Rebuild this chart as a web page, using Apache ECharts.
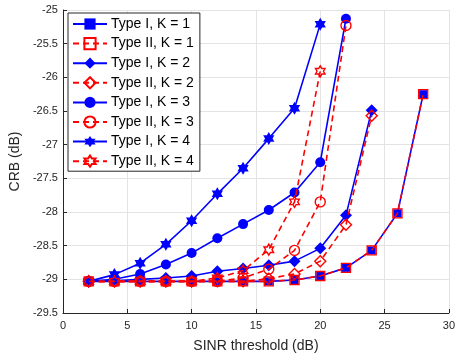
<!DOCTYPE html>
<html>
<head>
<meta charset="utf-8">
<script src="https://cdn.jsdelivr.net/npm/echarts@6/dist/echarts.min.js"></script>
<style>
  html, body { margin: 0; padding: 0; background: #fff; }
  #chart { width: 458px; height: 358px; }
</style>
</head>
<body>
<div id="chart"></div>
<script>
// SINR threshold (dB)
const sinr = [2, 4, 6, 8, 10, 12, 14, 16, 18, 20, 22, 24, 26, 28]

// CRB (dB), one array per curve
const typeI_K1 = [-29.03, -29.03, -29.03, -29.03, -29.03, -29.03, -29.03, -29.03, -29.01, -28.95, -28.83, -28.57, -28.02, -26.25]
const typeII_K1 = [-29.03, -29.03, -29.03, -29.03, -29.03, -29.03, -29.03, -29.03, -29.01, -28.95, -28.83, -28.57, -28.02, -26.25]
const typeI_K2 = [-29.03, -29.02, -29.0, -28.98, -28.95, -28.88, -28.84, -28.79, -28.73, -28.54, -28.05, -26.49]
const typeII_K2 = [-29.03, -29.03, -29.03, -29.03, -29.03, -29.03, -29.03, -28.99, -28.92, -28.73, -28.19, -26.57]
const typeI_K3 = [-29.03, -29.0, -28.92, -28.78, -28.61, -28.39, -28.18, -27.97, -27.71, -27.26, -25.13]
const typeII_K3 = [-29.03, -29.03, -29.03, -29.03, -29.03, -29.03, -28.98, -28.85, -28.57, -27.85, -25.23]
const typeI_K4 = [-29.03, -28.93, -28.76, -28.48, -28.13, -27.73, -27.35, -26.91, -26.46, -25.21]
const typeII_K4 = [-29.03, -29.03, -29.03, -29.03, -29.03, -28.98, -28.87, -28.56, -27.85, -25.91]

const names = [
  "Type I, K = 1", "Type II, K = 1", "Type I, K = 2", "Type II, K = 2",
  "Type I, K = 3", "Type II, K = 3", "Type I, K = 4", "Type II, K = 4",
]
const curves = [typeI_K1, typeII_K1, typeI_K2, typeII_K2, typeI_K3, typeII_K3, typeI_K4, typeII_K4]

// six-pointed star (hexagram) marker
function hexagram() {
  let d = ""
  for (let i = 0; i < 12; i++) {
    const a = (-90 + i * 30) * Math.PI / 180
    const r = i % 2 === 0 ? 1 : 0.58
    d += (i === 0 ? "M" : "L") + (r * Math.cos(a)).toFixed(3) + "," + (r * Math.sin(a)).toFixed(3)
  }
  return "path://" + d + "Z"
}
const star = hexagram()

const blue = "#0000ff"
const red = "#ff0000"
const markers = [
  { symbol: "rect", size: 8 },
  { symbol: "rect", size: 9 },
  { symbol: "diamond", size: 12 },
  { symbol: "diamond", size: 11 },
  { symbol: "circle", size: 10 },
  { symbol: "circle", size: 10 },
  { symbol: star, size: 13 },
  { symbol: star, size: 11 },
]

const font = "'Liberation Sans', Arial, Helvetica, sans-serif"

const series = curves.map((vals, i) => {
  const typeII = i % 2 === 1
  const color = typeII ? red : blue
  return {
    name: names[i],
    type: "line",
    data: vals.map((v, j) => [sinr[j], v]),
    symbol: markers[i].symbol,
    symbolSize: markers[i].size,
    symbolKeepAspect: true,
    showAllSymbol: true,
    z: 2 + i,
    lineStyle: { color, width: 1.6, type: typeII ? [6, 4] : "solid" },
    itemStyle: typeII
      ? { color: "rgba(0,0,0,0)", borderColor: red, borderWidth: 1.4 }
      : { color: blue, borderColor: blue, borderWidth: 0 },
    emphasis: { disabled: true },
    animation: false,
  }
})

const chart = echarts.init(document.getElementById("chart"))
chart.setOption({
  animation: false,
  textStyle: { fontFamily: font },
  grid: { left: 59, right: 6, top: 10, bottom: 40, containLabel: false },
  legend: {
    data: names,
    orient: "vertical",
    left: 68,
    top: 13,
    padding: [4, 6, 3, 4],
    itemWidth: 34,
    itemHeight: 14,
    itemGap: 5.6,
    backgroundColor: "#fff",
    borderColor: "#262626",
    borderWidth: 1,
    borderRadius: 0,
    textStyle: { fontSize: 14, color: "#000", fontFamily: font, padding: [0, 0, 0, -1] },
  },
  xAxis: {
    type: "value",
    min: 0,
    max: 30,
    interval: 5,
    name: "SINR threshold (dB)",
    nameLocation: "middle",
    nameGap: 26,
    nameTextStyle: { fontSize: 14, color: "#262626" },
    axisLine: { lineStyle: { color: "#262626", width: 1 } },
    axisTick: { inside: true, length: 4, lineStyle: { color: "#262626" } },
    axisLabel: { fontSize: 11, color: "#262626", margin: 7 },
    splitLine: { show: true, lineStyle: { color: "#e3e3e3", width: 1 } },
  },
  yAxis: {
    type: "value",
    min: -29.5,
    max: -25,
    interval: 0.5,
    name: "CRB (dB)",
    nameLocation: "middle",
    nameGap: 38,
    nameTextStyle: { fontSize: 14, color: "#262626" },
    axisLine: { show: true, lineStyle: { color: "#262626", width: 1 } },
    axisTick: { show: true, inside: true, length: 4, lineStyle: { color: "#262626" } },
    axisLabel: { fontSize: 11, color: "#262626", margin: 5 },
    splitLine: { show: true, lineStyle: { color: "#e3e3e3", width: 1 } },
  },
  series,
})
</script>
</body>
</html>
